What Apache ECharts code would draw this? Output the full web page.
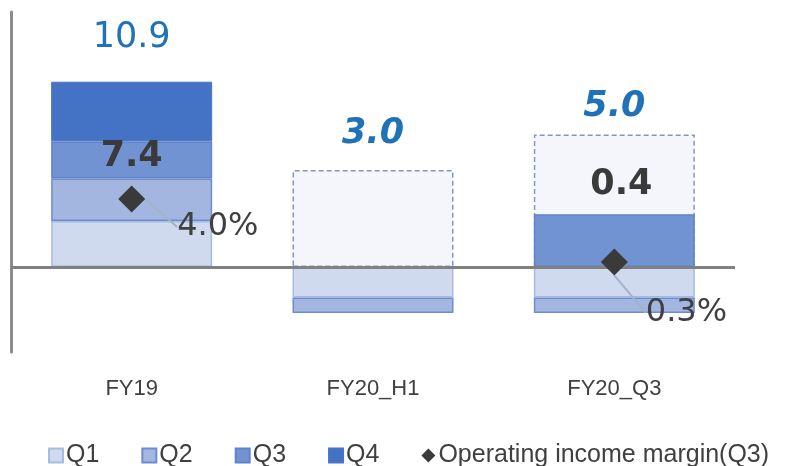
<!DOCTYPE html>
<html>
<head>
<meta charset="utf-8">
<script src="https://cdn.jsdelivr.net/npm/echarts@6/dist/echarts.min.js"></script>
<style>
  html, body { margin: 0; padding: 0; background: #fff; }
  #chart { width: 800px; height: 466px; }
</style>
</head>
<body>
<div id="chart"></div>
<script>
const categories = ['FY19', 'FY20_H1', 'FY20_Q3'];
const q1 = [2.7, -1.8, -1.8];
const q2 = [2.5, -0.9, -0.9];
const q3 = [2.2, null, 3.1];
const q4 = [3.5, null, null];
const outline = [10.9, 5.7, 7.8];         // dashed forecast boxes (FY19 hidden)
const totalLabels = ['10.9', '3.0', '5.0'];
const cumLabels = ['7.4', null, '0.4'];   // cumulative Q1-Q3
const margin = [4.0, null, 0.3];
const marginLabels = ['4.0%', null, '0.3%'];

const BLUE_TXT = '#1f72b8';
const DARK = '#3a3a3a';
const BAR_W = 161;

const chart = echarts.init(document.getElementById('chart'));

const outlineData = outline.map((v, i) => ({
  value: v,
  itemStyle: i === 0
    ? { color: 'rgba(0,0,0,0)', borderWidth: 0 }
    : { color: '#f4f6fb', borderColor: '#8497c2', borderWidth: 1.5, borderType: [5, 3] },
  label: { distance: [26, 19, 10][i] }
}));

const q3Data = q3.map((v, i) => ({
  value: v,
  label: i === 0 ? { position: 'inside', offset: [0, -3] } : { position: 'top', distance: 12, offset: [7, 0] }
}));

chart.setOption({
  animation: false,
  backgroundColor: '#fff',
  grid: { left: 11, right: 65, top: 12, bottom: 114 },
  legend: {
    data: [
      { name: 'Q1', icon: 'rect' },
      { name: 'Q2', icon: 'rect' },
      { name: 'Q3', icon: 'rect' },
      { name: 'Q4', icon: 'rect' },
      { name: 'Operating income margin(Q3)', icon: 'diamond' }
    ],
    left: 43, top: 438,
    itemWidth: 14, itemHeight: 14, itemGap: 42,
    textStyle: { fontFamily: 'Liberation Sans', fontSize: 25, color: '#404040', padding: [0, 0, 0, -2] }
  },
  xAxis: {
    type: 'category',
    data: categories,
    axisLine: { show: false, onZero: false },
    axisTick: { show: false },
    axisLabel: { margin: 26, fontFamily: 'Liberation Sans', fontSize: 22, color: '#404040' }
  },
  yAxis: {
    type: 'value', min: -5, max: 15,
    splitLine: { show: false },
    axisTick: { show: false },
    axisLabel: { show: false },
    axisLine: { show: true, lineStyle: { color: '#8c8c8c', width: 3 } }
  },
  series: [
    {
      name: 'Outline', type: 'bar', data: outlineData, barWidth: BAR_W, barGap: '-100%', z: 1,
      label: {
        show: true, position: 'top',
        formatter: p => (p.dataIndex === 0 ? '{r|' : '{b|') + totalLabels[p.dataIndex] + '}',
        rich: {
          r: { fontFamily: 'DejaVu Sans', fontSize: 35, color: BLUE_TXT },
          b: { fontFamily: 'DejaVu Sans', fontSize: 35, fontWeight: 'bold', fontStyle: 'italic', color: BLUE_TXT }
        }
      },
      markLine: {
        silent: true, symbol: 'none', animation: false,
        label: { show: false },
        lineStyle: { color: '#808080', width: 3, type: 'solid' },
        data: [{ yAxis: 0 }]
      }
    },
    {
      name: 'Q1', type: 'bar', stack: 'q', data: q1, barWidth: BAR_W, barGap: '-100%', z: 3,
      itemStyle: { color: '#cfdaee', borderColor: 'rgba(150,175,220,0.8)', borderWidth: 1.5 }
    },
    {
      name: 'Q2', type: 'bar', stack: 'q', data: q2, barWidth: BAR_W, barGap: '-100%', z: 3,
      itemStyle: { color: '#a2b6e0', borderColor: '#6d8dd0', borderWidth: 1.5 }
    },
    {
      name: 'Q3', type: 'bar', stack: 'q', data: q3Data, barWidth: BAR_W, barGap: '-100%', z: 3,
      itemStyle: { color: '#7193d1', borderColor: '#5f83cc', borderWidth: 1.5 },
      label: {
        show: true,
        formatter: p => cumLabels[p.dataIndex] || '',
        fontFamily: 'DejaVu Sans', fontSize: 35, fontWeight: 'bold', color: DARK
      }
    },
    {
      name: 'Q4', type: 'bar', stack: 'q', data: q4, barWidth: BAR_W, barGap: '-100%', z: 3,
      itemStyle: { color: '#4472c4', borderColor: '#4a75c5', borderWidth: 1 }
    },
    {
      name: 'Operating income margin(Q3)', type: 'scatter', z: 6,
      data: margin.map(v => (v == null ? '-' : v)),
      symbol: 'diamond', symbolSize: 27,
      itemStyle: { color: DARK, opacity: 1 },
      label: {
        show: true, position: 'right', distance: 5,
        formatter: p => marginLabels[p.dataIndex] || '',
        fontFamily: 'DejaVu Sans', fontSize: 32, color: '#404040'
      },
      labelLayout: p => (p.dataIndex === 0 ? { dx: 27, dy: 28 } : { dx: 13, dy: 51 }),
      labelLine: { show: true, lineStyle: { color: '#a3b2c8', width: 2 } }
    }
  ]
});
</script>
</body>
</html>
